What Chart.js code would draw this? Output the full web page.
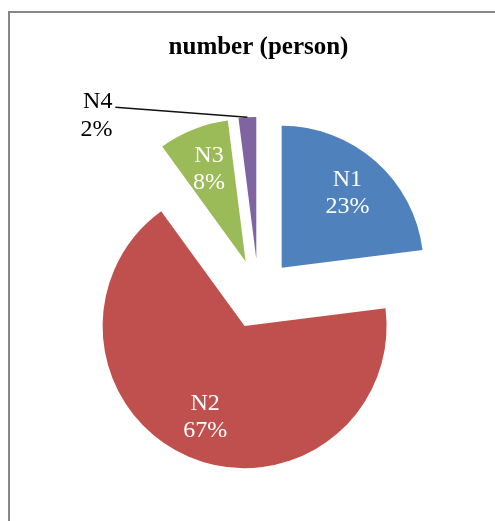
<!DOCTYPE html>
<html>
<head>
<meta charset="utf-8">
<script src="https://cdn.jsdelivr.net/npm/chart.js@4/dist/chart.umd.min.js"></script>
<style>
  html, body { margin: 0; padding: 0; background: #fff; overflow: hidden; }
  #frame { position: absolute; left: 8px; top: 11px; width: 600px; height: 600px;
           border-left: 2px solid #878787; border-top: 2px solid #878787; box-sizing: border-box; }
  #c { position: absolute; left: 0; top: 0; }
</style>
</head>
<body>
<div id="frame"></div>
<canvas id="c" width="495" height="521"></canvas>
<script>
const chartTitle = 'number (person)';
const categories = ['N1', 'N2', 'N3', 'N4'];
const shares = [23, 67, 8, 2];
const sliceColors = ['#4F81BD', '#C0504D', '#9BBB59', '#8064A2'];

const EXPLODE = 35;
const SERIF = '"Liberation Serif", "Times New Roman", serif';

const explodePlugin = {
  id: 'explode',
  afterDatasetUpdate(chart, args) {
    args.meta.data.forEach(arc => {
      const mid = (arc.startAngle + arc.endAngle) / 2;
      arc.x += Math.cos(mid) * EXPLODE;
      arc.y += Math.sin(mid) * EXPLODE;
    });
  }
};

const labelPlugin = {
  id: 'sliceLabels',
  afterDatasetsDraw(chart) {
    const ctx = chart.ctx;
    const meta = chart.getDatasetMeta(0);
    ctx.save();
    ctx.font = '24px ' + SERIF;
    meta.data.forEach((arc, i) => {
      const { x, y, startAngle, endAngle, outerRadius } = arc;
      const mid = (startAngle + endAngle) / 2;
      const cos = Math.cos(mid), sin = Math.sin(mid);
      const pct = shares[i] + '%';
      if (shares[i] < 5) {
        const px = x + cos * outerRadius, py = y + sin * outerRadius;
        const ex = px - 132, ey = py - 10;
        ctx.strokeStyle = '#111';
        ctx.lineWidth = 1.5;
        ctx.beginPath();
        ctx.moveTo(px, py);
        ctx.lineTo(ex, ey);
        ctx.stroke();
        ctx.fillStyle = '#000';
        ctx.textAlign = 'right';
        ctx.textBaseline = 'alphabetic';
        ctx.fillText(categories[i], ex - 3, ey + 1);
        ctx.fillText(pct, ex - 3, ey + 29);
      } else {
        const lx = x + cos * outerRadius * 0.7;
        const ly = y + sin * outerRadius * 0.7;
        ctx.fillStyle = '#fff';
        ctx.textAlign = 'center';
        ctx.textBaseline = 'middle';
        ctx.fillText(categories[i], lx, ly - 13.5);
        ctx.fillText(pct, lx, ly + 13.5);
      }
    });
    ctx.restore();
  }
};

new Chart(document.getElementById('c'), {
  type: 'pie',
  data: {
    labels: categories,
    datasets: [{
      data: shares,
      backgroundColor: sliceColors,
      borderWidth: 0,
      clip: false
    }]
  },
  options: {
    responsive: false,
    animation: false,
    events: [],
    radius: 142,
    layout: { padding: { top: 21, left: 22, right: 0, bottom: 0 } },
    plugins: {
      legend: { display: false },
      tooltip: { enabled: false },
      title: {
        display: true,
        text: chartTitle,
        color: '#000',
        font: { family: SERIF, size: 25, weight: 'bold' },
        padding: { top: 12, bottom: 4 }
      }
    }
  },
  plugins: [explodePlugin, labelPlugin]
});
</script>
</body>
</html>
